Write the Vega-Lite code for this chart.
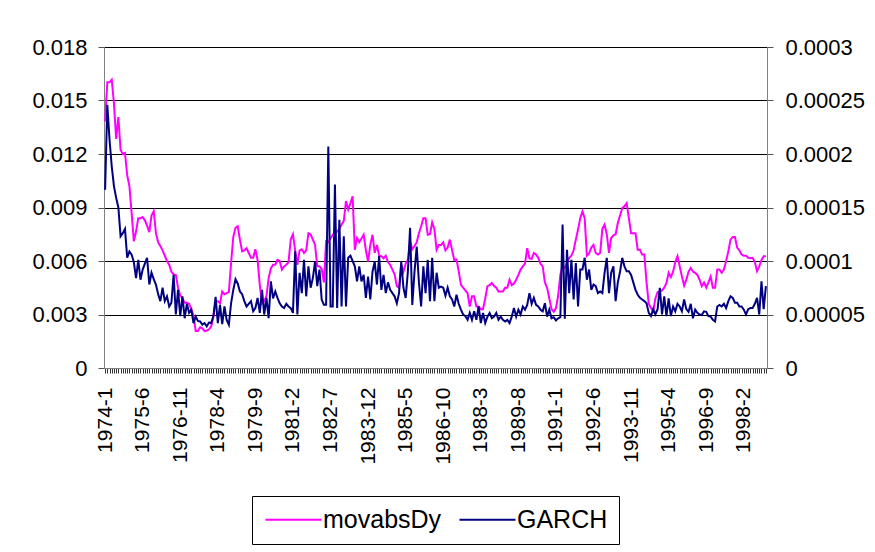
{
  "$schema": "https://vega.github.io/schema/vega-lite/v6.json",
  "width": 663,
  "height": 321,
  "autosize": {"type": "none"},
  "padding": {"left": 104, "top": 47, "right": 108, "bottom": 184},
  "background": "white",
  "config": {
    "font": "Liberation Sans",
    "view": {"stroke": null},
    "axis": {"labelFont": "Liberation Sans", "labelColor": "black", "title": null}
  },
  "data": {"values": [
{"d":"1974-1","m":0.01383,"g":0.0001665},{"d":"1974-2","m":0.01602,"g":0.000246},{"d":"1974-3","m":0.01602,"g":0.0002135},{"d":"1974-4","m":0.01617,"g":0.0001885},{"d":"1974-5","m":0.01485,"g":0.00017},{"d":"1974-6","m":0.01284,"g":0.000159},{"d":"1974-7","m":0.01407,"g":0.00015},{"d":"1974-8","m":0.01224,"g":0.000123},{"d":"1974-9","m":0.012,"g":0.000126},{"d":"1974-10","m":0.01206,"g":0.00013},{"d":"1974-11","m":0.0108,"g":0.000103},{"d":"1974-12","m":0.0102,"g":0.000109},
{"d":"1975-1","m":0.0087,"g":0.000106},{"d":"1975-2","m":0.00711,"g":0.000099},{"d":"1975-3","m":0.00765,"g":0.000084},{"d":"1975-4","m":0.0084,"g":0.000101},{"d":"1975-5","m":0.0084,"g":0.0000825},{"d":"1975-6","m":0.00846,"g":0.000092},{"d":"1975-7","m":0.00828,"g":0.0000975},{"d":"1975-8","m":0.00798,"g":0.000103},{"d":"1975-9","m":0.00762,"g":0.000078},{"d":"1975-10","m":0.00855,"g":0.000089},{"d":"1975-11","m":0.00879,"g":0.000083},{"d":"1975-12","m":0.00756,"g":0.000078},
{"d":"1976-1","m":0.00705,"g":0.000069},{"d":"1976-2","m":0.00684,"g":0.0000625},{"d":"1976-3","m":0.0066,"g":0.000075},{"d":"1976-4","m":0.0063,"g":0.0000625},{"d":"1976-5","m":0.006,"g":0.000067},{"d":"1976-6","m":0.00579,"g":0.0000575},{"d":"1976-7","m":0.0054,"g":0.000061},{"d":"1976-8","m":0.00525,"g":0.000087},{"d":"1976-9","m":0.00522,"g":0.00005},{"d":"1976-10","m":0.0045,"g":0.000073},{"d":"1976-11","m":0.00408,"g":0.0000485},{"d":"1976-12","m":0.0039,"g":0.000067},
{"d":"1977-1","m":0.00366,"g":0.0000465},{"d":"1977-2","m":0.00366,"g":0.00006},{"d":"1977-3","m":0.0036,"g":0.0000515},{"d":"1977-4","m":0.0033,"g":0.0000545},{"d":"1977-5","m":0.00294,"g":0.000042},{"d":"1977-6","m":0.00207,"g":0.000048},{"d":"1977-7","m":0.00207,"g":0.000044},{"d":"1977-8","m":0.00228,"g":0.0000435},{"d":"1977-9","m":0.00222,"g":0.0000405},{"d":"1977-10","m":0.00207,"g":0.000042},{"d":"1977-11","m":0.0021,"g":0.000039},{"d":"1977-12","m":0.00216,"g":0.0000425},
{"d":"1978-1","m":0.00234,"g":0.000042},{"d":"1978-2","m":0.00285,"g":0.0000485},{"d":"1978-3","m":0.00375,"g":0.0000665},{"d":"1978-4","m":0.00375,"g":0.000042},{"d":"1978-5","m":0.00363,"g":0.000059},{"d":"1978-6","m":0.00429,"g":0.000041},{"d":"1978-7","m":0.00414,"g":0.0000575},{"d":"1978-8","m":0.0042,"g":0.000045},{"d":"1978-9","m":0.00426,"g":0.0000405},{"d":"1978-10","m":0.00588,"g":0.0000605},{"d":"1978-11","m":0.00735,"g":0.000073},{"d":"1978-12","m":0.00786,"g":0.000083},
{"d":"1979-1","m":0.00795,"g":0.000079},{"d":"1979-2","m":0.0072,"g":0.0000715},{"d":"1979-3","m":0.00654,"g":0.000069},{"d":"1979-4","m":0.0066,"g":0.0000625},{"d":"1979-5","m":0.00672,"g":0.0000575},{"d":"1979-6","m":0.00645,"g":0.00006},{"d":"1979-7","m":0.00618,"g":0.0000625},{"d":"1979-8","m":0.00618,"g":0.000053},{"d":"1979-9","m":0.00666,"g":0.000056},{"d":"1979-10","m":0.00606,"g":0.0000655},{"d":"1979-11","m":0.00465,"g":0.0000515},{"d":"1979-12","m":0.00363,"g":0.000073},
{"d":"1980-1","m":0.00375,"g":0.00005},{"d":"1980-2","m":0.00402,"g":0.0000655},{"d":"1980-3","m":0.00504,"g":0.0000465},{"d":"1980-4","m":0.00558,"g":0.000081},{"d":"1980-5","m":0.00579,"g":0.000065},{"d":"1980-6","m":0.00579,"g":0.0000715},{"d":"1980-7","m":0.00606,"g":0.0000655},{"d":"1980-8","m":0.006,"g":0.0000605},{"d":"1980-9","m":0.00552,"g":0.0000575},{"d":"1980-10","m":0.0057,"g":0.000056},{"d":"1980-11","m":0.00579,"g":0.00006},{"d":"1980-12","m":0.00594,"g":0.0000575},
{"d":"1981-1","m":0.0072,"g":0.000056},{"d":"1981-2","m":0.0075,"g":0.0000515},{"d":"1981-3","m":0.0066,"g":0.000109},{"d":"1981-4","m":0.00579,"g":0.00005},{"d":"1981-5","m":0.0066,"g":0.000089},{"d":"1981-6","m":0.00666,"g":0.00007},{"d":"1981-7","m":0.00645,"g":0.000101},{"d":"1981-8","m":0.0066,"g":0.000067},{"d":"1981-9","m":0.00756,"g":0.000095},{"d":"1981-10","m":0.0075,"g":0.000075},{"d":"1981-11","m":0.0072,"g":0.000084},{"d":"1981-12","m":0.0069,"g":0.0000995},
{"d":"1982-1","m":0.0057,"g":0.0000765},{"d":"1982-2","m":0.0057,"g":0.000092},{"d":"1982-3","m":0.00555,"g":0.000064},{"d":"1982-4","m":0.0048,"g":0.000059},{"d":"1982-5","m":0.00711,"g":0.000059},{"d":"1982-6","m":0.00705,"g":0.000207},{"d":"1982-7","m":0.00726,"g":0.0000575},{"d":"1982-8","m":0.00747,"g":0.0000575},{"d":"1982-9","m":0.00756,"g":0.0001715},{"d":"1982-10","m":0.00765,"g":0.000056},{"d":"1982-11","m":0.0078,"g":0.0001385},{"d":"1982-12","m":0.00804,"g":0.0000575},
{"d":"1983-1","m":0.00825,"g":0.000123},{"d":"1983-2","m":0.00936,"g":0.0000575},{"d":"1983-3","m":0.00888,"g":0.000103},{"d":"1983-4","m":0.00924,"g":0.000105},{"d":"1983-5","m":0.00963,"g":0.0001},{"d":"1983-6","m":0.00663,"g":0.000095},{"d":"1983-7","m":0.00729,"g":0.000081},{"d":"1983-8","m":0.00705,"g":0.000095},{"d":"1983-9","m":0.00726,"g":0.000081},{"d":"1983-10","m":0.00747,"g":0.000087},{"d":"1983-11","m":0.0066,"g":0.0000655},{"d":"1983-12","m":0.00597,"g":0.0000855},
{"d":"1984-1","m":0.0069,"g":0.000064},{"d":"1984-2","m":0.00747,"g":0.00009},{"d":"1984-3","m":0.00645,"g":0.0000995},{"d":"1984-4","m":0.0069,"g":0.000078},{"d":"1984-5","m":0.0063,"g":0.0001045},{"d":"1984-6","m":0.00627,"g":0.000073},{"d":"1984-7","m":0.00615,"g":0.000087},{"d":"1984-8","m":0.0063,"g":0.00007},{"d":"1984-9","m":0.00594,"g":0.00008},{"d":"1984-10","m":0.00579,"g":0.000073},{"d":"1984-11","m":0.00552,"g":0.00007},{"d":"1984-12","m":0.00525,"g":0.000067},
{"d":"1985-1","m":0.00459,"g":0.0000605},{"d":"1985-2","m":0.0045,"g":0.00007},{"d":"1985-3","m":0.00579,"g":0.0000995},{"d":"1985-4","m":0.0054,"g":0.000075},{"d":"1985-5","m":0.00585,"g":0.0000655},{"d":"1985-6","m":0.00606,"g":0.00009},{"d":"1985-7","m":0.00711,"g":0.000131},{"d":"1985-8","m":0.00666,"g":0.000059},{"d":"1985-9","m":0.00684,"g":0.00009},{"d":"1985-10","m":0.00705,"g":0.0001135},{"d":"1985-11","m":0.00756,"g":0.00008},{"d":"1985-12","m":0.00795,"g":0.0000575},
{"d":"1986-1","m":0.0084,"g":0.000095},{"d":"1986-2","m":0.0084,"g":0.00007},{"d":"1986-3","m":0.00747,"g":0.000101},{"d":"1986-4","m":0.0075,"g":0.0000625},{"d":"1986-5","m":0.00816,"g":0.000103},{"d":"1986-6","m":0.0078,"g":0.0000625},{"d":"1986-7","m":0.00663,"g":0.000089},{"d":"1986-8","m":0.0069,"g":0.000075},{"d":"1986-9","m":0.0069,"g":0.000076},{"d":"1986-10","m":0.00705,"g":0.000075},{"d":"1986-11","m":0.0066,"g":0.0000675},{"d":"1986-12","m":0.00675,"g":0.000075},
{"d":"1987-1","m":0.0072,"g":0.000067},{"d":"1987-2","m":0.0066,"g":0.000064},{"d":"1987-3","m":0.00606,"g":0.0000575},{"d":"1987-4","m":0.00609,"g":0.0000685},{"d":"1987-5","m":0.00543,"g":0.00006},{"d":"1987-6","m":0.00468,"g":0.0000545},{"d":"1987-7","m":0.0045,"g":0.00005},{"d":"1987-8","m":0.00435,"g":0.0000485},{"d":"1987-9","m":0.0042,"g":0.000045},{"d":"1987-10","m":0.00345,"g":0.0000515},{"d":"1987-11","m":0.00402,"g":0.000045},{"d":"1987-12","m":0.00402,"g":0.000053},
{"d":"1988-1","m":0.00345,"g":0.000045},{"d":"1988-2","m":0.00345,"g":0.0000575},{"d":"1988-3","m":0.0033,"g":0.000042},{"d":"1988-4","m":0.0033,"g":0.0000515},{"d":"1988-5","m":0.0039,"g":0.000042},{"d":"1988-6","m":0.00459,"g":0.000048},{"d":"1988-7","m":0.00465,"g":0.0000515},{"d":"1988-8","m":0.00477,"g":0.0000465},{"d":"1988-9","m":0.00459,"g":0.000048},{"d":"1988-10","m":0.0045,"g":0.0000515},{"d":"1988-11","m":0.00429,"g":0.000045},{"d":"1988-12","m":0.00429,"g":0.000048},
{"d":"1989-1","m":0.00429,"g":0.000045},{"d":"1989-2","m":0.0045,"g":0.0000435},{"d":"1989-3","m":0.0045,"g":0.000045},{"d":"1989-4","m":0.00495,"g":0.000042},{"d":"1989-5","m":0.00465,"g":0.000048},{"d":"1989-6","m":0.00474,"g":0.000056},{"d":"1989-7","m":0.00495,"g":0.000048},{"d":"1989-8","m":0.00522,"g":0.0000545},{"d":"1989-9","m":0.00552,"g":0.00005},{"d":"1989-10","m":0.0057,"g":0.0000575},{"d":"1989-11","m":0.00585,"g":0.0000545},{"d":"1989-12","m":0.00672,"g":0.000059},
{"d":"1990-1","m":0.00615,"g":0.00007},{"d":"1990-2","m":0.00612,"g":0.00006},{"d":"1990-3","m":0.00645,"g":0.0000655},{"d":"1990-4","m":0.00636,"g":0.000059},{"d":"1990-5","m":0.00618,"g":0.0000575},{"d":"1990-6","m":0.00585,"g":0.0000545},{"d":"1990-7","m":0.0057,"g":0.000053},{"d":"1990-8","m":0.0048,"g":0.0000605},{"d":"1990-9","m":0.0045,"g":0.000048},{"d":"1990-10","m":0.0039,"g":0.0000545},{"d":"1990-11","m":0.0033,"g":0.0000465},{"d":"1990-12","m":0.00315,"g":0.0000475},
{"d":"1991-1","m":0.00336,"g":0.0000445},{"d":"1991-2","m":0.00405,"g":0.0000465},{"d":"1991-3","m":0.00525,"g":0.0000475},{"d":"1991-4","m":0.0057,"g":0.000134},{"d":"1991-5","m":0.00561,"g":0.000046},{"d":"1991-6","m":0.00588,"g":0.0001105},{"d":"1991-7","m":0.00618,"g":0.00007},{"d":"1991-8","m":0.0063,"g":0.000101},{"d":"1991-9","m":0.0066,"g":0.000064},{"d":"1991-10","m":0.0072,"g":0.000098},{"d":"1991-11","m":0.00777,"g":0.0000575},{"d":"1991-12","m":0.0084,"g":0.000092},
{"d":"1992-1","m":0.00879,"g":0.000092},{"d":"1992-2","m":0.0084,"g":0.000103},{"d":"1992-3","m":0.0063,"g":0.0000825},{"d":"1992-4","m":0.00642,"g":0.000092},{"d":"1992-5","m":0.00675,"g":0.000073},{"d":"1992-6","m":0.0069,"g":0.000078},{"d":"1992-7","m":0.00645,"g":0.0000765},{"d":"1992-8","m":0.00636,"g":0.00007},{"d":"1992-9","m":0.00645,"g":0.0000715},{"d":"1992-10","m":0.0078,"g":0.00007},{"d":"1992-11","m":0.00804,"g":0.000089},{"d":"1992-12","m":0.0075,"g":0.000103},
{"d":"1993-1","m":0.00645,"g":0.00007},{"d":"1993-2","m":0.00729,"g":0.000089},{"d":"1993-3","m":0.00744,"g":0.000095},{"d":"1993-4","m":0.0075,"g":0.0000625},{"d":"1993-5","m":0.00813,"g":0.00008},{"d":"1993-6","m":0.00855,"g":0.00009},{"d":"1993-7","m":0.00897,"g":0.000103},{"d":"1993-8","m":0.00906,"g":0.000095},{"d":"1993-9","m":0.00924,"g":0.0000905},{"d":"1993-10","m":0.0084,"g":0.0000905},{"d":"1993-11","m":0.00756,"g":0.000087},{"d":"1993-12","m":0.00756,"g":0.00008},
{"d":"1994-1","m":0.00756,"g":0.000073},{"d":"1994-2","m":0.00663,"g":0.0000685},{"d":"1994-3","m":0.00663,"g":0.0000655},{"d":"1994-4","m":0.00636,"g":0.000064},{"d":"1994-5","m":0.00636,"g":0.0000625},{"d":"1994-6","m":0.0048,"g":0.0000605},{"d":"1994-7","m":0.0036,"g":0.0000515},{"d":"1994-8","m":0.00336,"g":0.0000485},{"d":"1994-9","m":0.00318,"g":0.000055},{"d":"1994-10","m":0.0039,"g":0.00005},{"d":"1994-11","m":0.00426,"g":0.000055},{"d":"1994-12","m":0.00429,"g":0.000075},
{"d":"1995-1","m":0.00435,"g":0.00005},{"d":"1995-2","m":0.0045,"g":0.000067},{"d":"1995-3","m":0.00477,"g":0.0000485},{"d":"1995-4","m":0.00534,"g":0.000065},{"d":"1995-5","m":0.0051,"g":0.0000485},{"d":"1995-6","m":0.0054,"g":0.0000575},{"d":"1995-7","m":0.00594,"g":0.000053},{"d":"1995-8","m":0.00627,"g":0.00006},{"d":"1995-9","m":0.0057,"g":0.0000575},{"d":"1995-10","m":0.00513,"g":0.000053},{"d":"1995-11","m":0.00462,"g":0.000064},{"d":"1995-12","m":0.00495,"g":0.000055},
{"d":"1996-1","m":0.0054,"g":0.0000525},{"d":"1996-2","m":0.00561,"g":0.00006},{"d":"1996-3","m":0.0054,"g":0.0000465},{"d":"1996-4","m":0.00534,"g":0.0000545},{"d":"1996-5","m":0.00522,"g":0.0000515},{"d":"1996-6","m":0.00495,"g":0.00005},{"d":"1996-7","m":0.00459,"g":0.0000495},{"d":"1996-8","m":0.0048,"g":0.000053},{"d":"1996-9","m":0.0045,"g":0.0000525},{"d":"1996-10","m":0.0048,"g":0.0000485},{"d":"1996-11","m":0.00513,"g":0.000048},{"d":"1996-12","m":0.0045,"g":0.000045},
{"d":"1997-1","m":0.0045,"g":0.0000435},{"d":"1997-2","m":0.00552,"g":0.0000575},{"d":"1997-3","m":0.00552,"g":0.000059},{"d":"1997-4","m":0.00534,"g":0.0000575},{"d":"1997-5","m":0.00552,"g":0.00006},{"d":"1997-6","m":0.006,"g":0.000056},{"d":"1997-7","m":0.00654,"g":0.0000625},{"d":"1997-8","m":0.0072,"g":0.000067},{"d":"1997-9","m":0.00735,"g":0.0000655},{"d":"1997-10","m":0.00735,"g":0.000061},{"d":"1997-11","m":0.00675,"g":0.000061},{"d":"1997-12","m":0.0066,"g":0.0000575},
{"d":"1998-1","m":0.00636,"g":0.0000575},{"d":"1998-2","m":0.0063,"g":0.0000545},{"d":"1998-3","m":0.0063,"g":0.00005},{"d":"1998-4","m":0.00618,"g":0.000055},{"d":"1998-5","m":0.00615,"g":0.000056},{"d":"1998-6","m":0.00618,"g":0.000056},{"d":"1998-7","m":0.00594,"g":0.00006},{"d":"1998-8","m":0.00543,"g":0.0000655},{"d":"1998-9","m":0.0057,"g":0.00005},{"d":"1998-10","m":0.00606,"g":0.000081},{"d":"1998-11","m":0.00627,"g":0.000055},{"d":"1998-12","m":0.00627,"g":0.0000765}
  ]},
  "encoding": {
    "x": {
      "field": "d",
      "type": "ordinal",
      "sort": null,
      "scale": {"type": "point", "padding": 0.5},
      "axis": {
        "labelExpr": "indexof(['1974-1','1975-6','1976-11','1978-4','1979-9','1981-2','1982-7','1983-12','1985-5','1986-10','1988-3','1989-8','1991-1','1992-6','1993-11','1995-4','1996-9','1998-2'], datum.value) >= 0 ? datum.value : ''",
        "labelAngle": 270,
        "labelAlign": "right",
        "labelBaseline": "middle",
        "labelFontSize": 21,
        "labelOverlap": false,
        "labelBound": false,
        "labelFlush": false,
        "labelPadding": 14,
        "tickSize": 5,
        "tickColor": "#333333",
        "domainColor": "#808080",
        "grid": false
      }
    },
    "color": {"datum": "movabsDy", "type": "nominal"}
  },
  "layer": [
    {
      "mark": {"type": "line", "strokeWidth": 2},
      "encoding": {
        "y": {
          "field": "m",
          "type": "quantitative",
          "scale": {"domain": [0, 0.018], "nice": false, "zero": true},
          "axis": {
            "orient": "left",
            "values": [0, 0.003, 0.006, 0.009, 0.012, 0.015, 0.018],
            "format": ".3~f",
            "labelFontSize": 22,
            "labelPadding": 11,
            "tickSize": 6,
            "tickColor": "#555555",
            "domainColor": "#808080",
            "grid": true,
            "gridColor": "black",
            "gridWidth": 1
          }
        },
        "color": {
          "datum": "movabsDy",
          "type": "nominal",
          "scale": {"domain": ["movabsDy", "GARCH"], "range": ["#FF00FF", "#000080"]},
          "legend": {
            "title": null,
            "orient": "none",
            "legendX": 148,
            "legendY": 449,
            "direction": "horizontal",
            "columns": 2,
            "symbolType": "M-2.8,0H2.8",
            "symbolSize": 400,
            "symbolOffset": 18,
            "symbolStrokeWidth": 2,
            "labelFontSize": 25,
            "labelFont": "Liberation Sans",
            "labelColor": "black",
            "labelOffset": 17,
            "columnPadding": 13,
            "padding": 11,
            "strokeColor": "black",
            "fillColor": "white"
          }
        }
      }
    },
    {
      "mark": {"type": "line", "strokeWidth": 2},
      "encoding": {
        "y": {
          "field": "g",
          "type": "quantitative",
          "scale": {"domain": [0, 0.0003], "nice": false, "zero": true},
          "axis": {
            "orient": "right",
            "values": [0, 0.00005, 0.0001, 0.00015, 0.0002, 0.00025, 0.0003],
            "format": ".5~f",
            "labelFontSize": 22,
            "labelPadding": 12,
            "tickSize": 6,
            "tickColor": "#555555",
            "domainColor": "#808080",
            "grid": false
          }
        },
        "color": {"datum": "GARCH", "type": "nominal"}
      }
    }
  ],
  "resolve": {"scale": {"y": "independent"}}
}
